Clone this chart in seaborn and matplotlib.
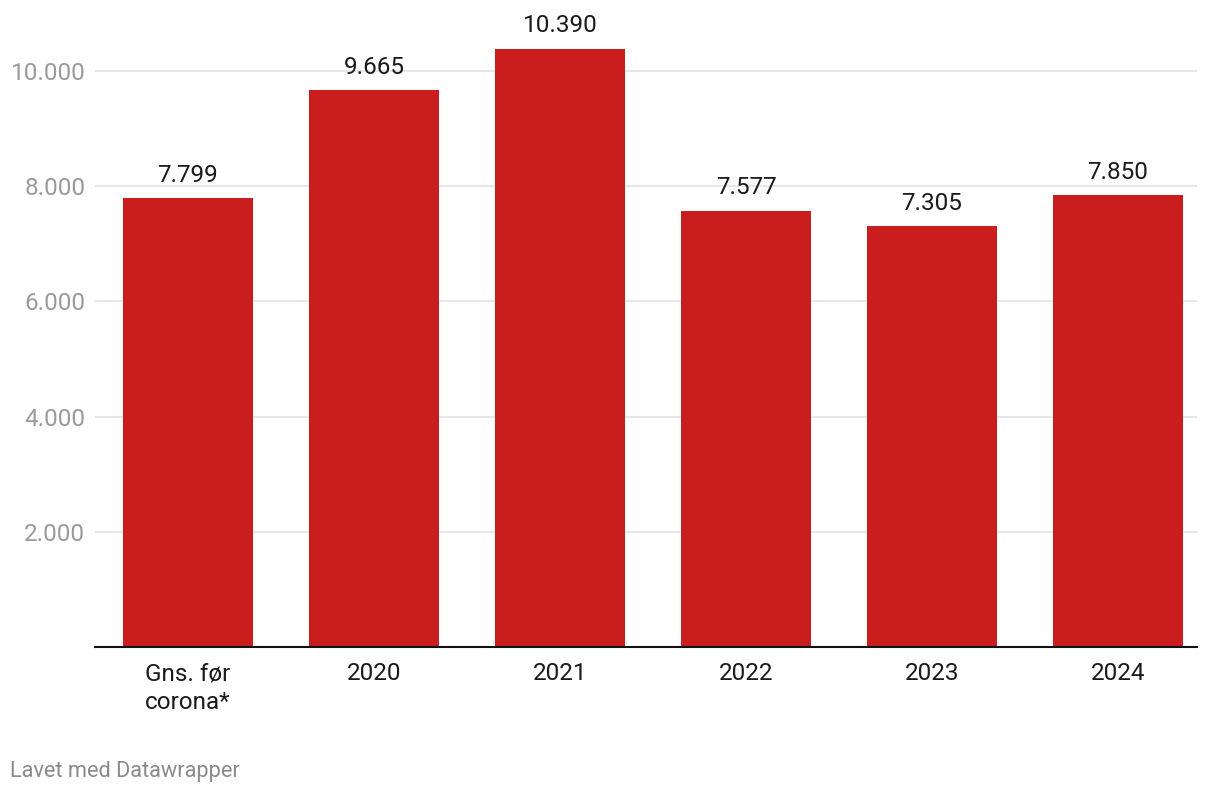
import matplotlib
matplotlib.use("Agg")
import matplotlib.pyplot as plt
import seaborn as sns
import pandas as pd

categories = ["Gns. før\ncorona*", "2020", "2021", "2022", "2023", "2024"]
values = [7799, 9665, 10390, 7577, 7305, 7850]
value_labels = ["7.799", "9.665", "10.390", "7.577", "7.305", "7.850"]
yticks = [2000, 4000, 6000, 8000, 10000]
ytick_labels = ["2.000", "4.000", "6.000", "8.000", "10.000"]

sns.set_style("white")
plt.rcParams['font.family'] = ['Roboto', 'DejaVu Sans']

df = pd.DataFrame({"cat": categories, "val": values})

fig = plt.figure(figsize=(12.2, 7.96), dpi=100)
ax = fig.add_axes([95/1220, 1-647/796, (1197-95)/1220, (647-13.4)/796])

sns.barplot(data=df, x="cat", y="val", color="#c91d1e", saturation=1, width=0.7,
            linewidth=0, edgecolor="none", ax=ax, zorder=3)

ax.set_ylim(0, 11000)
ax.set_xlim(-0.5, 5.425)
ax.set_yticks(yticks)
ax.set_yticklabels(ytick_labels)
ax.yaxis.grid(True, color="#e3e3e3", linewidth=1.2, zorder=0)
ax.set_axisbelow(True)
ax.tick_params(axis="y", length=0, pad=7, labelsize=17.5, labelcolor="#9a9a9a")
ax.tick_params(axis="x", length=0, pad=11, labelsize=17.5, labelcolor="#1a1a1a")
for t in ax.get_xticklabels():
    t.set_linespacing(1.3)
    t.set_verticalalignment("top")
    t.set_multialignment("left")
ax.set_xlabel("")
ax.set_ylabel("")
for s in ["top", "right", "left"]:
    ax.spines[s].set_visible(False)
ax.spines["bottom"].set_color("#111111")
ax.spines["bottom"].set_linewidth(1.5)
ax.spines["bottom"].set_zorder(5)

for i, (v, lab) in enumerate(zip(values, value_labels)):
    ax.annotate(lab, (i, v), xytext=(0, 8), textcoords="offset points",
                ha="center", va="bottom", fontsize=17.5, color="#1a1a1a")

fig.text(10/1220, 1-772/796, "Lavet med Datawrapper", ha="left", va="center",
         fontsize=15.7, color="#8a8a8a")

fig.savefig("out.png", dpi=100, facecolor="white")
